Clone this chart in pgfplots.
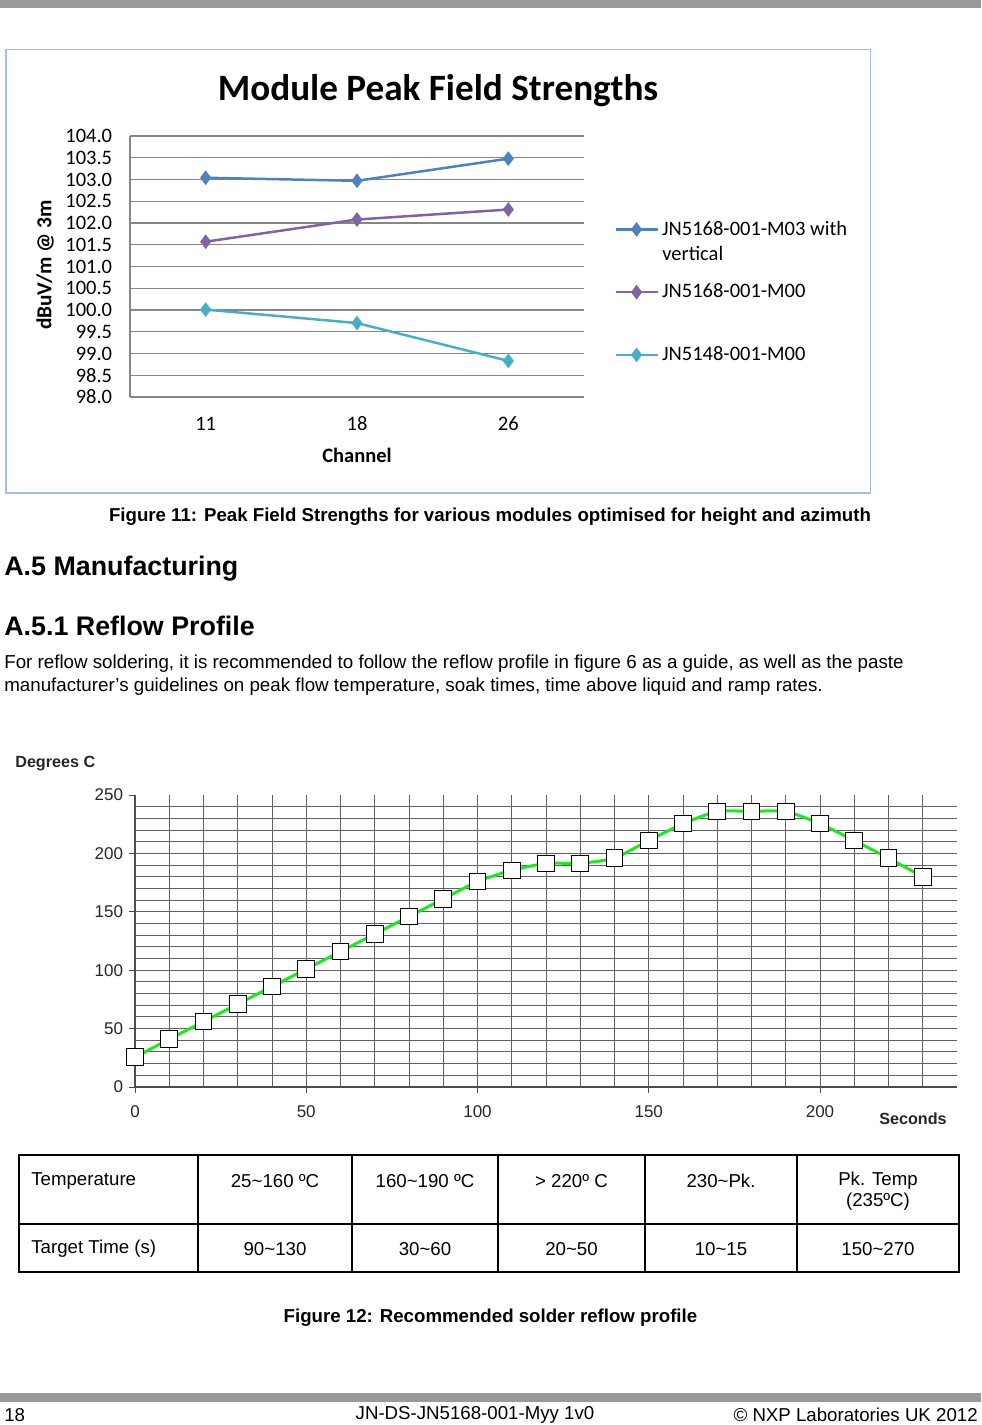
\documentclass[border=0pt]{standalone}
\usepackage{fontspec}
\setmainfont{Liberation Sans}
\newfontfamily\calibri{Carlito}
\usepackage{pgfplots}
\pgfplotsset{compat=1.18}
\definecolor{s1}{HTML}{4F81BD}
\definecolor{s2}{HTML}{8064A2}
\definecolor{s3}{HTML}{4BACC6}
\definecolor{barg}{HTML}{999999}
\definecolor{frameblue}{HTML}{A7BDE8}
\definecolor{profgreen}{HTML}{22E622}
\definecolor{gridg}{HTML}{868686}

\begin{document}
\begin{tikzpicture}[x=0.6pt,y=-0.6pt]
\useasboundingbox (0,0) rectangle (981,1425);
\fill[barg] (0,0) rectangle (981,8.5);
\fill[barg] (0,1392.5) rectangle (981,1401.5);
\draw[frameblue, line width=1.1pt] (6,49.5) rectangle (870.5,493);
\node[inner sep=0pt,font=\calibri\bfseries\fontsize{22.3}{26}\selectfont] at (438,90.5) {Module Peak Field Strengths};
\coordinate (c1) at (130,397);
\begin{axis}[at={(c1)}, anchor=south west, scale only axis, clip=false,
  width=272.4pt, height=156.6pt,
  xmin=0.5, xmax=3.5, ymin=98, ymax=104,
  xtick={1,2,3}, xticklabels={11,18,26},
  ytick={98,98.5,99,99.5,100,100.5,101,101.5,102,102.5,103,103.5,104},
  ymajorgrids, major grid style={draw=gridg, line width=0.8pt},
  axis x line*=bottom, axis y line*=left,
  axis line style={draw=gridg, line width=0.8pt, -},
  major tick length=0pt,
  tick label style={font=\calibri\fontsize{12.3}{14}\selectfont},
  /pgf/number format/assume math mode=true,
  yticklabel style={xshift=-7.2pt, /pgf/number format/fixed, /pgf/number format/fixed zerofill, /pgf/number format/precision=1},
  xticklabel style={yshift=-8.4pt},
  legend style={at={(1.055,0.701)}, anchor=north west, draw=none, fill=none,
    row sep=23.7pt, font=\calibri\fontsize{12.3}{14.5}\selectfont},
  legend cell align=left,
  legend image code/.code={\draw[mark repeat=2,mark phase=2,#1] plot coordinates {(0pt,0pt)(12.6pt,0pt)(25.2pt,0pt)};},
  ]
\addplot[s1, line width=1.5pt, mark=diamond*, mark size=3.2pt, mark options={solid, fill=s1}] coordinates {(1,103.04)(2,102.97)(3,103.48)};
\addlegendentry{JN5168-001-M03 with}
\addplot[s2, line width=1.5pt, mark=diamond*, mark size=3.2pt, mark options={solid, fill=s2}] coordinates {(1,101.57)(2,102.08)(3,102.31)};
\addlegendentry{JN5168-001-M00}
\addplot[s3, line width=1.5pt, mark=diamond*, mark size=3.2pt, mark options={solid, fill=s3}] coordinates {(1,100.01)(2,99.7)(3,98.83)};
\addlegendentry{JN5148-001-M00}
\node[font=\calibri\bfseries\fontsize{12.3}{14}\selectfont] at (axis description cs:0.5,-0.222) {Channel};
\node[font=\calibri\bfseries\fontsize{12.8}{14}\selectfont, rotate=90] at (axis description cs:-0.187,0.506) {dBuV/m @ 3m};
\end{axis}
\node[inner sep=0pt, anchor=west, font=\calibri\fontsize{12.3}{14.5}\selectfont] at (662,253) {vertical};

\begin{scope}[every node/.style={inner sep=0pt}]
\node[font=\bfseries\fontsize{11.2}{13}\selectfont] at (490,517) {Figure 11: Peak Field Strengths for various modules optimised for height and azimuth};
\node[anchor=west, font=\bfseries\fontsize{16.1}{18}\selectfont] at (4,569) {A.5 Manufacturing};
\node[anchor=west, font=\bfseries\fontsize{16.1}{18}\selectfont] at (4,626) {A.5.1 Reflow Profile};
\node[anchor=west, font=\fontsize{11.25}{13}\selectfont] at (4,664) {For reflow soldering, it is recommended to follow the reflow profile in figure 6 as a guide, as well as the paste};
\node[anchor=west, font=\fontsize{11.25}{13}\selectfont] at (4,687) {manufacturer’s guidelines on peak flow temperature, soak times, time above liquid and ramp rates.};
\node[anchor=west, font=\bfseries\fontsize{9.7}{12}\selectfont, text=black!85] at (15,764) {Degrees C};
\node[anchor=west, font=\bfseries\fontsize{9.7}{12}\selectfont, text=black!85] at (879,1119) {Seconds};
\end{scope}

\coordinate (c2) at (135,1087);
\begin{axis}[at={(c2)}, anchor=south west, scale only axis,
  width=493.2pt, height=175.2pt,
  xmin=0, xmax=240, ymin=0, ymax=250,
  xtick={0,50,...,200}, ytick={0,50,...,250},
  minor xtick={10,20,...,230}, minor ytick={10,20,...,240},
  xminorgrids, yminorgrids, minor grid style={draw=black!62, line width=0.6pt},
  minor tick length=0pt, major tick length=3.6pt, tick align=outside,
  axis x line*=bottom, axis y line*=left,
  axis line style={-, draw=black!70, line width=0.7pt},
  tick style={draw=black!70, line width=0.6pt},
  /pgf/number format/assume math mode=true,
  tick label style={font=\fontsize{10.2}{12}\selectfont, text=black!85},
  xticklabel style={yshift=-4pt},
  ]
\addplot[profgreen, line width=1.8pt, smooth, tension=0.35, mark=square*, mark size=5pt,
  mark options={solid, fill=white, draw=black, line width=0.6pt}] coordinates {
  (0,25.5)(10,41)(20,56)(30,71)(40,86)(50,101)(60,116)(70,131)(80,146)(90,161)
  (100,176)(110,185.5)(120,191.5)(130,191.5)(140,196)(150,211)(160,225.5)(170,236)
  (180,236)(190,236)(200,225.5)(210,211)(220,196)(230,180)};
\end{axis}

\begin{scope}[every node/.style={inner sep=0pt, font=\fontsize{11.2}{13}\selectfont}]
\draw[line width=0.8pt] (19,1155) rectangle (959,1272);
\draw[line width=0.8pt] (19,1224) -- (959,1224);
\foreach \xx in {198,352,498,645,797} \draw[line width=0.8pt] (\xx,1155) -- (\xx,1272);
\node[anchor=west] at (31,1181) {Temperature};
\node at (275,1181) {25\textasciitilde160 ºC};
\node at (425,1181) {160\textasciitilde190 ºC};
\node at (571.5,1181) {> 220º C};
\node at (721,1181) {230\textasciitilde Pk.};
\node at (878,1181) {Pk. Temp};
\node at (878,1202) {(235ºC)};
\node[anchor=west] at (31,1249) {Target Time (s)};
\node at (275,1249) {90\textasciitilde130};
\node at (425,1249) {30\textasciitilde60};
\node at (571.5,1249) {20\textasciitilde50};
\node at (721,1249) {10\textasciitilde15};
\node at (878,1249) {150\textasciitilde270};
\node[font=\bfseries\fontsize{11.2}{13}\selectfont] at (490.5,1318) {Figure 12: Recommended solder reflow profile};
\node[anchor=west] at (4,1415) {18};
\node at (475,1415) {JN-DS-JN5168-001-Myy 1v0};
\node[anchor=east] at (978,1415) {© NXP Laboratories UK 2012};
\end{scope}
\end{tikzpicture}
\end{document}
